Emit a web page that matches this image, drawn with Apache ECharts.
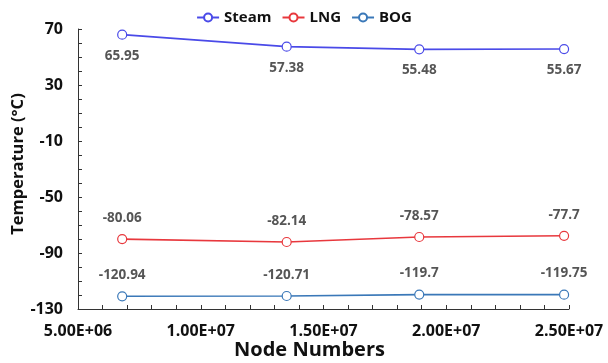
<!DOCTYPE html>
<html><head><meta charset="utf-8">
<script src="https://cdn.jsdelivr.net/npm/echarts@6/dist/echarts.min.js"></script>
<style>html,body{margin:0;padding:0;background:#fff}#c{width:608px;height:363px}</style>
</head><body><div id="c"></div>
<script>
var nodeNumbers = [6.8e6, 1.35e7, 1.89e7, 2.48e7];
var steam = [65.95, 57.38, 55.48, 55.67];
var lng = [-80.06, -82.14, -78.57, -77.7];
var bog = [-120.94, -120.71, -119.7, -119.75];
var yLabelValues = [-130, -90, -50, -10, 30, 70];
var yTickValues = [-130,-120,-110,-100,-90,-80,-70,-60,-50,-40,-30,-20,-10,0,10,20,30,40,50,60,70];

function pairs(ys){ return ys.map(function(y,i){ return [nodeNumbers[i], y]; }); }
function fmtE(v){
  var s = Number(v).toExponential(2);
  var parts = s.split('e');
  var exp = parseInt(parts[1],10);
  var sign = exp < 0 ? '-' : '+';
  var a = Math.abs(exp);
  return parts[0] + 'E' + sign + (a < 10 ? '0' + a : a);
}
var font = '"Open Sans", "Noto Sans", sans-serif';
function series(name, data, color, pos){
  return {
    name: name, type: 'line', data: pairs(data),
    symbol: 'circle', symbolSize: 9, showAllSymbol: true,
    itemStyle: {color: '#fff', borderColor: color, borderWidth: 1.2},
    lineStyle: {color: color, width: 1.6},
    label: {show: true, position: pos, distance: 9, color: '#555', fontSize: 13.5, fontWeight: 'bold', fontFamily: font,
      formatter: function(p){ return String(p.value[1]); }},
    emphasis: {disabled: true}
  };
}
var chart = echarts.init(document.getElementById('c'));
chart.setOption({
  animation: false,
  textStyle: {fontFamily: font},
  legend: {
    top: 5, left: 'center', itemWidth: 22, itemHeight: 10, itemGap: 10,
    textStyle: {fontSize: 15, fontWeight: 'bold', color: '#111', fontFamily: font},
    data: [
      {name: 'Steam', itemStyle: {color:'#fff', borderColor:'#4a4ae8'}, lineStyle:{color:'#4a4ae8'}},
      {name: 'LNG', itemStyle: {color:'#fff', borderColor:'#e8383d'}, lineStyle:{color:'#e8383d'}},
      {name: 'BOG', itemStyle: {color:'#fff', borderColor:'#3a78b8'}, lineStyle:{color:'#3a78b8'}}
    ]
  },
  grid: {left: 78, right: 39, top: 29, bottom: 54, containLabel: false, outerBoundsMode: 'none'},
  xAxis: {
    type: 'value', min: 5e6, max: 2.5e7, interval: 5e6,
    name: 'Node Numbers', nameLocation: 'middle', nameGap: 31, nameMoveOverlap: false,
    nameTextStyle: {fontSize: 20, fontWeight: 'bold', color: '#111', fontFamily: font, padding: [0, 28, 0, 0]},
    axisLine: {show: true, onZero: false, lineStyle: {color: '#333', width: 1}},
    axisTick: {show: true, inside: true, length: 4, lineStyle: {color: '#333'}},
    minorTick: {show: true, splitNumber: 5, length: 4, lineStyle: {color: '#333'}},
    splitLine: {show: false},
    axisLabel: {fontSize: 16, fontWeight: 'bold', color: '#111', margin: 14, formatter: fmtE, fontFamily: font}
  },
  yAxis: {
    type: 'value', min: -130, max: 70,
    name: 'Temperature (°C)', nameLocation: 'middle', nameGap: 51, nameRotate: 90, nameMoveOverlap: false,
    nameTextStyle: {fontSize: 16.5, fontWeight: 'bold', color: '#111', fontFamily: font, padding: [0, 0, 0, 10]},
    axisLine: {show: true, onZero: false, lineStyle: {color: '#333', width: 1}},
    axisTick: {show: true, inside: true, length: 4, customValues: yTickValues, lineStyle: {color: '#333'}},
    splitLine: {show: false},
    axisLabel: {fontSize: 16, fontWeight: 'bold', color: '#111', margin: 15, customValues: yLabelValues, fontFamily: font}
  },
  series: [
    series('Steam', steam, '#4a4ae8', 'bottom'),
    series('LNG', lng, '#e8383d', 'top'),
    series('BOG', bog, '#3a78b8', 'top')
  ]
});
</script></body></html>
